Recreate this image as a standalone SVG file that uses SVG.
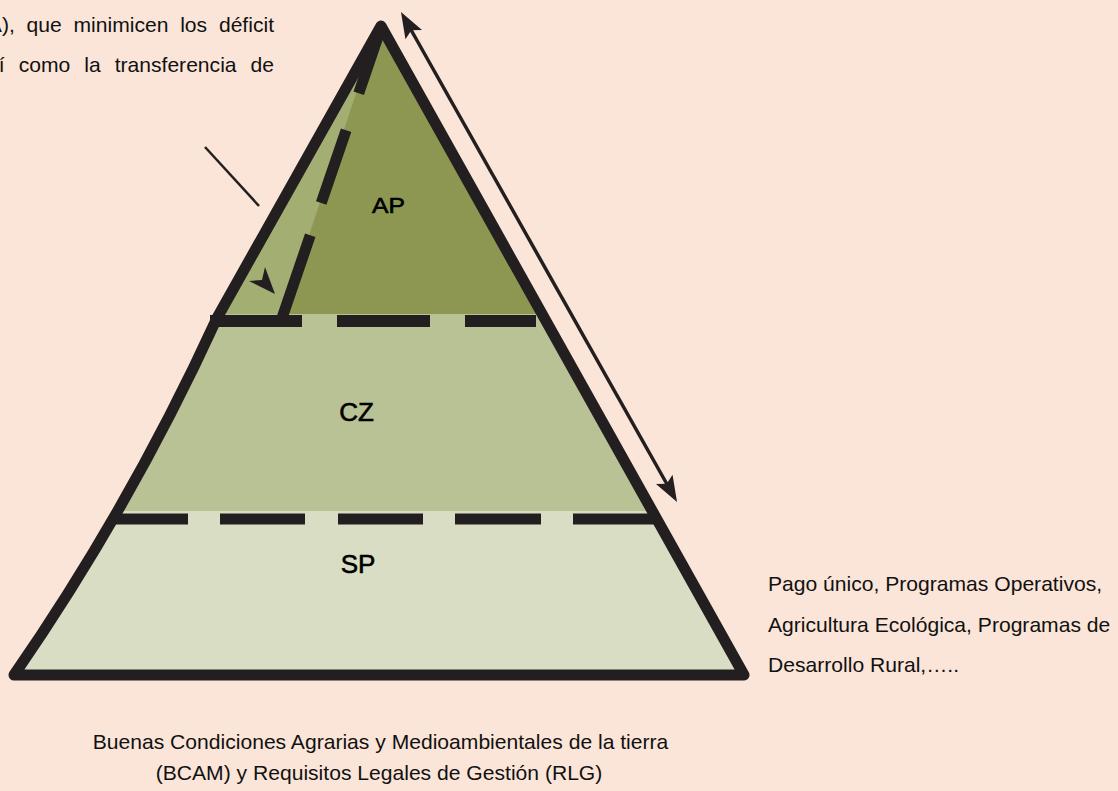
<svg xmlns="http://www.w3.org/2000/svg" width="1118" height="791" viewBox="0 0 1118 791">
<style>
.txt{font-family:"Liberation Sans",Arial,sans-serif;font-size:20px;fill:#111;}
.lbl{font-family:"Liberation Sans",Arial,sans-serif;fill:#000;stroke:#000;stroke-width:0.6;text-anchor:middle;}
.ink{stroke:#231F20;fill:none;}
</style>
<defs>
<clipPath id="tri"><path d="M381,26 L744,675 L14,675 Q131,506 217,318 Z"/></clipPath>
<marker id="head" markerUnits="userSpaceOnUse" orient="auto-start-reverse" refX="0" refY="0" markerWidth="30" markerHeight="30" overflow="visible">
<path d="M8,0 L-18,-9.5 L-13,0 L-18,9.5 Z" fill="#231F20"/>
</marker>
</defs>
<rect width="1118" height="791" fill="#FBE5D8"/>

<g id="pyramid">
<g clip-path="url(#tri)">
<rect id="fill-sp" x="0" y="511" width="800" height="200" fill="#D9DDC4"/>
<rect id="fill-cz" x="0" y="314" width="800" height="197" fill="#B9C294"/>
<rect id="fill-ap" x="0" y="0" width="800" height="314" fill="#8D9752"/>
<path id="fill-ap-left" d="M381,18 L283,314 L100,314 L100,18 Z" fill="#A3AE72"/>
</g>
<path class="ink" d="M381,26 L744,675 L14,675 Q131,506 217,318 Z" stroke-width="11" stroke-linejoin="round"/>
</g>

<g id="node-ap">
<path class="ink" d="M381,28 L282,318" stroke-width="11" stroke-dasharray="69 39 77 34 88 30"/>
<path class="ink" d="M210,321 H302 M337,321 H430 M465,321 H536" stroke-width="12"/>
<text class="lbl" x="0" y="0" font-size="22" transform="translate(388.5,213) scale(1.12,1)">AP</text>
</g>

<g id="node-cz">
<path class="ink" d="M110,519 H188 M220,519 H305 M338,519 H423 M455,519 H541 M573,519 H658" stroke-width="11"/>
<text class="lbl" x="356.5" y="421" font-size="26">CZ</text>
</g>

<g id="node-sp">
<text class="lbl" x="358" y="573" font-size="26">SP</text>
</g>

<g id="connectors">
<line class="ink" x1="404.9" y1="19" x2="673.1" y2="495" stroke-width="3.5" marker-start="url(#head)" marker-end="url(#head)"/>
<line class="ink" x1="205" y1="147" x2="259" y2="206" stroke-width="2.5"/>
<path d="M275,294 L249,281 L262,280 L265,267 Z" fill="#231F20"/>
</g>

<g id="text-top-left">
<text class="txt" text-anchor="end" word-spacing="5.6" transform="translate(274,32) scale(1.055,1)">A), que minimicen los déficit</text>
<text class="txt" text-anchor="end" word-spacing="7.7" transform="translate(274,72) scale(1.055,1)">í como la transferencia de</text>
</g>

<g id="text-right">
<text class="txt" transform="translate(768,591) scale(1.055,1)">Pago único, Programas Operativos,</text>
<text class="txt" transform="translate(768,632) scale(1.055,1)">Agricultura Ecológica, Programas de</text>
<text class="txt" transform="translate(768,672) scale(1.055,1)">Desarrollo Rural,…..</text>
</g>

<g id="text-bottom">
<text class="txt" text-anchor="middle" transform="translate(380.5,749) scale(1.055,1)">Buenas Condiciones Agrarias y Medioambientales de la tierra</text>
<text class="txt" text-anchor="middle" transform="translate(379,780) scale(1.055,1)">(BCAM) y Requisitos Legales de Gestión (RLG)</text>
</g>
</svg>
